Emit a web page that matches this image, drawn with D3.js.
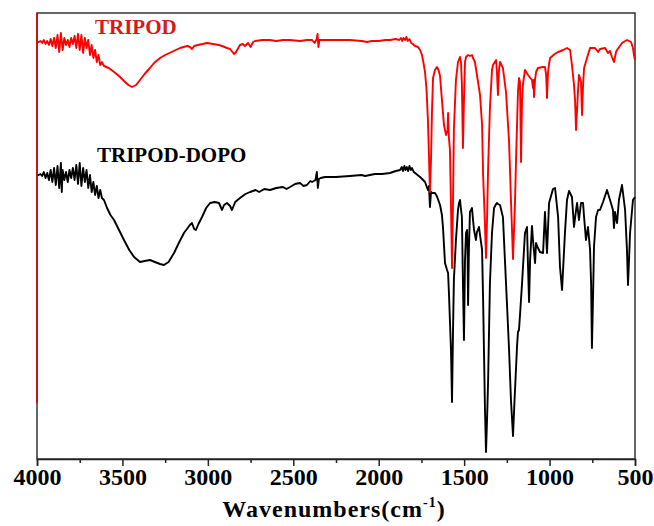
<!DOCTYPE html>
<html><head><meta charset="utf-8">
<script src="https://cdn.jsdelivr.net/npm/d3@7"></script>
<style>
html,body{margin:0;padding:0;background:#fff;}
svg{display:block;}
</style></head>
<body>
<script>
// ---- data ----
const seriesNames = ["TRIPOD", "TRIPOD-DOPO"];
const seriesColors = ["#ff0000", "#000000"];
const majorTicks = [4000, 3500, 3000, 2500, 2000, 1500, 1000, 500];
const minorTicks = [3750, 3250, 2750, 2250, 1750, 1250, 750];
const xLabel = "Wavenumbers(cm";
const xLabelSup = "-1";

const tripodWave = [4000,3990,3980,3970,3960,3950,3940,3930,3920,3910,3900,3890,3880,3870,3860,3850,3840,3830,3820,3810,3800,3790,3780,3770,3760,3750,3740,3730,3720,3710,3700,3690,3680,3670,3660,3650,3640,3630,3620,3608,3580,3549,3520,3491,3465,3444,3420,3397,3370,3339,3315,3280,3250,3200,3163,3120,3105,3093,3080,3060,3030,3005,2970,2935,2917,2888,2870,2847,2835,2812,2795,2783,2765,2750,2735,2724,2680,2636,2600,2560,2520,2461,2420,2390,2375,2363,2358,2353,2347,2314,2250,2168,2100,2068,2040,2000,1960,1934,1900,1880,1870,1862,1855,1846,1838,1830,1820,1810,1800,1788,1770,1758,1747,1741,1729,1720,1712,1706,1700,1694,1688,1682,1671,1659,1650,1641,1630,1618,1606,1597,1594,1589,1583,1577,1571,1565,1560,1548,1536,1524,1518,1513,1507,1501,1495,1489,1477,1466,1454,1448,1437,1425,1407,1395,1389,1378,1372,1366,1360,1349,1337,1331,1313,1308,1302,1296,1290,1273,1255,1237,1226,1214,1202,1196,1185,1179,1173,1167,1161,1156,1144,1126,1103,1097,1094,1091,1085,1079,1068,1040,1027,1020,1015,1009,1003,997,970,950,920,898,880,869,857,851,845,839,834,828,822,816,810,804,798,781,763,734,716,705,675,658,646,635,623,611,605,576,547,523,512,506,500];
const tripodT = [417,417,418,416,419,415,418,414,420,413,421,411,424,407,426,409,421,414,419,412,421,415,423,411,425,409,424,406,421,411,419,404,414,401,409,397,404,394,397,393,391,387,383,378,374,372,374,379,385,391,396,401,404,408,411,413,412,410,413,414,415,416,415,414,413,411,410,405,407,414,415,413,416,412,417,418,419,419,418,419,419,418,419,419,416,420,425,412,419,419,419,419,418,417,418,418,419,419,420,419,421,418,421,419,422,418,420,416,415,413,412,409,404,399,387,369,339,304,267,299,349,381,389,392,389,383,359,334,324,329,346,321,309,254,191,259,329,379,397,402,396,374,311,359,397,402,404,403,404,401,397,384,364,334,284,234,201,239,289,351,389,394,399,387,364,389,397,391,367,317,259,200,259,301,367,381,377,297,359,374,389,384,379,371,379,362,379,387,391,392,392,384,361,387,395,401,405,407,409,411,409,394,374,359,329,349,367,384,381,377,344,374,391,401,411,411,407,410,411,406,408,402,397,407,409,416,419,417,411,404,399];

const dopoWave = [4000,3990,3980,3970,3960,3950,3940,3930,3920,3910,3900,3890,3880,3870,3860,3855,3850,3840,3830,3820,3810,3800,3790,3780,3770,3760,3750,3740,3730,3720,3710,3700,3690,3680,3670,3660,3650,3640,3630,3620,3608,3590,3570,3549,3520,3491,3460,3432,3397,3370,3339,3310,3280,3257,3230,3198,3170,3140,3105,3093,3080,3070,3055,3034,3010,2987,2960,2935,2917,2905,2888,2870,2859,2840,2812,2780,2753,2720,2700,2670,2636,2600,2560,2540,2519,2490,2461,2440,2420,2400,2390,2370,2362,2356,2350,2340,2314,2250,2168,2100,2080,2022,1980,1934,1900,1875,1865,1858,1850,1843,1836,1828,1820,1812,1805,1795,1780,1758,1740,1729,1712,1706,1700,1694,1688,1671,1660,1641,1630,1624,1612,1600,1594,1589,1577,1571,1565,1560,1548,1536,1530,1524,1518,1513,1507,1501,1495,1489,1483,1480,1477,1472,1466,1460,1454,1448,1442,1431,1425,1413,1407,1395,1389,1384,1378,1372,1366,1360,1349,1337,1325,1313,1308,1302,1290,1273,1255,1237,1226,1214,1205,1196,1190,1185,1179,1173,1161,1144,1132,1126,1120,1114,1103,1097,1085,1079,1068,1056,1038,1027,1015,1003,980,968,950,939,927,910,898,886,869,857,845,839,828,816,804,798,787,775,763,757,752,746,740,728,716,705,687,664,646,629,623,617,611,605,594,576,558,547,541,535,529,512,500];
const dopoT = [284,284,285,283,287,281,286,279,289,277,291,274,293,271,296,267,289,279,287,277,289,281,291,279,294,275,296,273,291,277,289,271,284,267,277,264,273,261,269,261,259,251,244,239,229,219,209,202,197,198,199,197,195,194,197,206,216,226,234,236,230,229,235,242,251,256,257,256,249,254,256,253,249,257,261,265,267,269,267,270,269,271,272,270,272,275,276,273,274,278,277,279,287,271,280,281,282,282,283,284,283,285,285,286,288,289,292,288,293,289,292,288,293,289,291,287,285,282,279,277,269,273,252,267,266,266,263,254,244,232,196,189,186,166,109,57,129,179,219,249,256,259,249,242,176,119,199,226,229,209,154,209,247,249,251,239,229,219,227,232,224,209,159,109,49,7,39,76,176,226,251,255,256,255,254,242,176,109,59,23,59,92,114,127,129,144,176,226,232,192,157,199,233,219,196,216,211,207,206,247,206,256,270,271,242,192,169,226,259,268,262,232,249,256,239,256,256,242,219,232,209,176,111,159,212,242,249,249,257,269,259,249,231,247,241,236,259,274,249,209,174,199,226,259,262];

// ---- layout ----
const W = 654, H = 526;
const m = {left: 37, right: 19, top: 13, bottom: 67};
const svg = d3.select("body").append("svg").attr("width", W).attr("height", H);

const x = d3.scaleLinear().domain([4000, 500]).range([m.left, W - m.right]);
const y = d3.scaleLinear().domain([0, 446]).range([H - m.bottom, m.top]);

const FONT = "'Liberation Serif','Times New Roman',serif";

// frame
svg.append("rect")
  .attr("x", x(4000)).attr("y", y(446))
  .attr("width", x(500) - x(4000)).attr("height", y(0) - y(446))
  .attr("fill", "none").attr("stroke", "#333").attr("stroke-width", 1.5);

// series
const series = [
  {name: seriesNames[0], color: seriesColors[0], w: tripodWave, t: tripodT},
  {name: seriesNames[1], color: seriesColors[1], w: dopoWave, t: dopoT}
];
const line = d3.line().x(d => x(d[0])).y(d => y(d[1])).curve(d3.curveLinear);
series.slice().reverse().forEach(s => {
  svg.append("path")
    .datum(s.w.map((w, i) => [w, s.t[i]]))
    .attr("d", line)
    .attr("fill", "none")
    .attr("stroke", s.color)
    .attr("stroke-width", 1.9)
    .attr("stroke-linejoin", "round");
});

// red overlay on the left spine (as in the original)
svg.append("line")
  .attr("x1", x(4000)).attr("x2", x(4000))
  .attr("y1", y(446)).attr("y2", y(56))
  .attr("stroke", "#e00000").attr("stroke-width", 1.6);

// bottom axis
const axis = d3.axisBottom(x).tickValues(majorTicks).tickSize(7).tickPadding(2).tickFormat(d3.format("d"));
const gx = svg.append("g").attr("transform", `translate(0,${y(0)})`).call(axis);
gx.select(".domain").attr("stroke", "#222").attr("stroke-width", 1.5);
gx.selectAll(".tick line").attr("stroke", "#222").attr("stroke-width", 1.5);
gx.selectAll(".tick text").attr("font-family", FONT).attr("font-weight", "bold")
  .attr("font-size", 24).attr("fill", "#000");
const minor = d3.axisBottom(x).tickValues(minorTicks).tickSize(4).tickFormat("");
const gm = svg.append("g").attr("transform", `translate(0,${y(0)})`).call(minor);
gm.select(".domain").remove();
gm.selectAll(".tick line").attr("stroke", "#222").attr("stroke-width", 1.5);

// axis title
const title = svg.append("text")
  .attr("x", 334).attr("y", 517)
  .attr("text-anchor", "middle")
  .attr("font-family", FONT).attr("font-weight", "bold").attr("font-size", 24)
  .attr("letter-spacing", 1)
  .attr("fill", "#000");
title.append("tspan").text(xLabel);
title.append("tspan").attr("dy", -10).attr("font-size", 14).text(xLabelSup);
title.append("tspan").attr("dy", 10).text(")");

// series labels
svg.append("text").attr("x", 95).attr("y", 34)
  .attr("font-family", FONT).attr("font-weight", "bold").attr("font-size", 21)
  .attr("fill", "#d41a1a").text(seriesNames[0]);
svg.append("text").attr("x", 97).attr("y", 162)
  .attr("font-family", FONT).attr("font-weight", "bold").attr("font-size", 21)
  .attr("fill", "#000").text(seriesNames[1]);
</script>
</body></html>
